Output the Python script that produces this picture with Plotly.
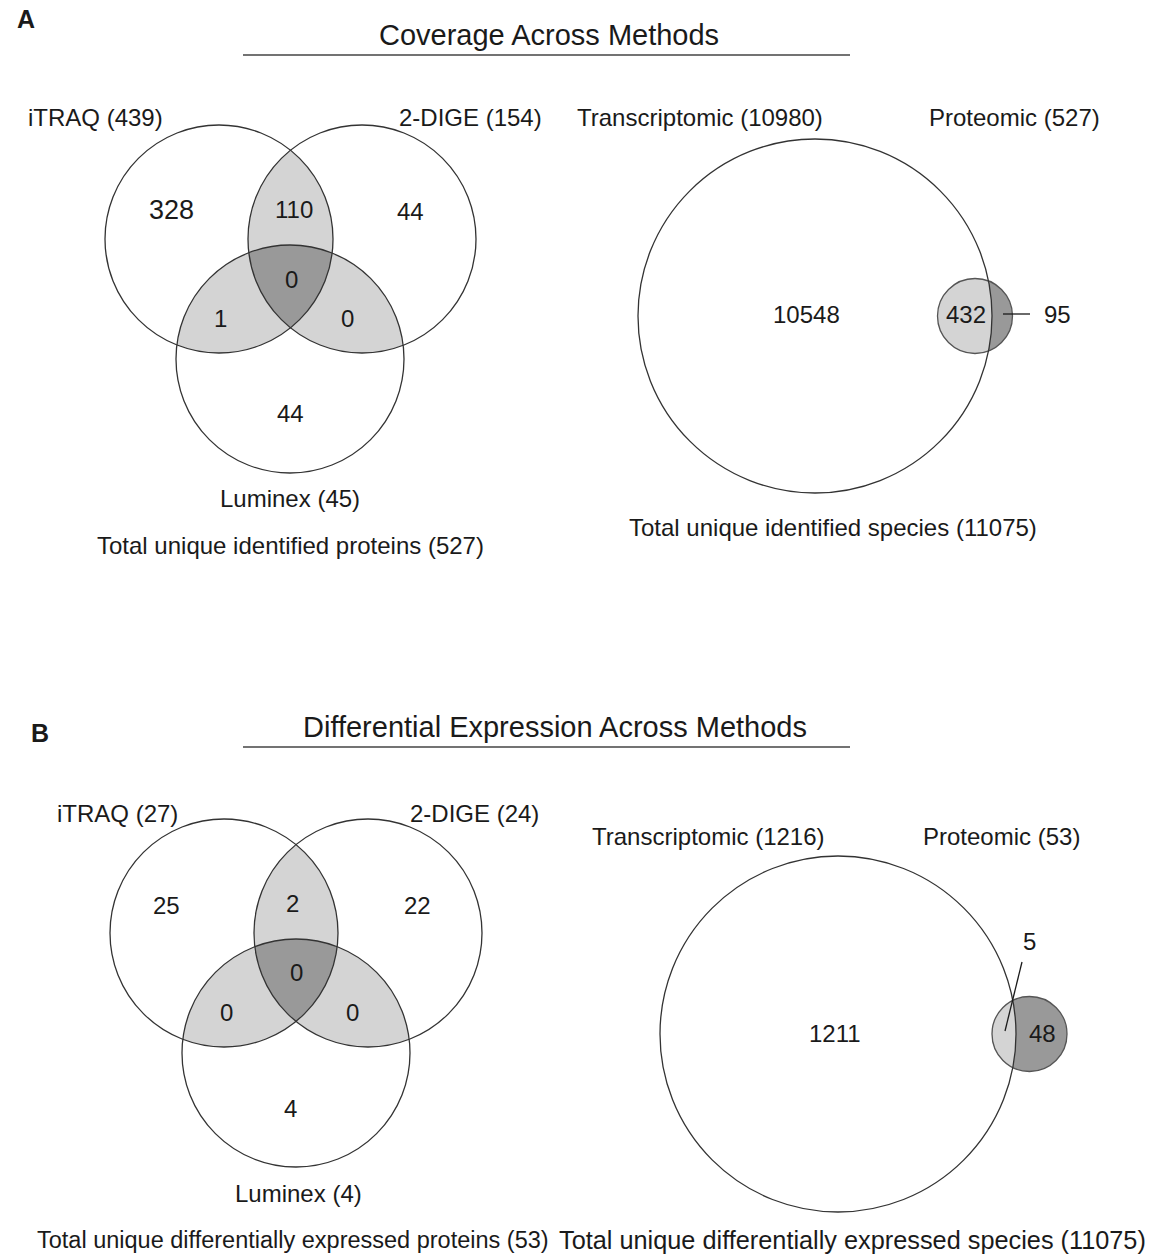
import numpy as np
import plotly.graph_objects as go

# ---- data -------------------------------------------------------------
# Panel A, three-way protein overlap
a3_names = ["iTRAQ", "2-DIGE", "Luminex"]
a3_totals = [439, 154, 45]
a3_only = [328, 44, 44]            # iTRAQ only, 2-DIGE only, Luminex only
a3_pairs = [110, 1, 0]             # iTRAQ&2-DIGE, iTRAQ&Luminex, 2-DIGE&Luminex
a3_all = 0
a3_total = 527

# Panel A, transcript vs protein
a2_names = ["Transcriptomic", "Proteomic"]
a2_totals = [10980, 527]
a2_regions = [10548, 432, 95]      # transcript only, both, protein only
a2_total = 11075

# Panel B, three-way differential expression
b3_names = ["iTRAQ", "2-DIGE", "Luminex"]
b3_totals = [27, 24, 4]
b3_only = [25, 22, 4]
b3_pairs = [2, 0, 0]
b3_all = 0
b3_total = 53

# Panel B, transcript vs protein
b2_names = ["Transcriptomic", "Proteomic"]
b2_totals = [1216, 53]
b2_regions = [1211, 5, 48]
b2_total = 11075

# ---- styling ----------------------------------------------------------
FONT = "Liberation Sans, Arial, sans-serif"
INK = "#1a1a1a"
EDGE = "#333333"
LIGHT = "#d4d4d4"
DARK = "#999999"
W, H = 1151, 1255

fig = go.Figure()
shapes = []
annotations = []


def text(x, y, s, size=24, bold=False, anchor="center"):
    annotations.append(dict(
        x=x, y=y, xref="x", yref="y", text=f"<b>{s}</b>" if bold else s,
        showarrow=False, xanchor=anchor, yanchor="middle",
        font=dict(family=FONT, size=size, color=INK)))


def circle_boundary(c, n=1440):
    t = np.linspace(0, 2 * np.pi, n, endpoint=False)
    return c[0] + c[2] * np.cos(t), c[1] + c[2] * np.sin(t)


def intersection(circles):
    xs, ys = [], []
    for i, c in enumerate(circles):
        x, y = circle_boundary(c)
        keep = np.ones_like(x, dtype=bool)
        for j, o in enumerate(circles):
            if j != i:
                keep &= np.hypot(x - o[0], y - o[1]) <= o[2] + 1e-6
        xs.append(x[keep]); ys.append(y[keep])
    x = np.concatenate(xs); y = np.concatenate(ys)
    cx, cy = x.mean(), y.mean()
    order = np.argsort(np.arctan2(y - cy, x - cx))
    x, y = x[order], y[order]
    return np.append(x, x[0]), np.append(y, y[0])


def fill(x, y, color):
    fig.add_trace(go.Scatter(x=x, y=y, mode="lines", fill="toself",
                             fillcolor=color, line=dict(width=0),
                             hoverinfo="skip", showlegend=False))


def outline(c, color=EDGE, width=1.3):
    shapes.append(dict(type="circle", xref="x", yref="y",
                       x0=c[0] - c[2], x1=c[0] + c[2],
                       y0=c[1] - c[2], y1=c[1] + c[2],
                       line=dict(color=color, width=width)))


def venn3(circles, names, totals, only, pairs, allv, total, total_text,
          label_pos, only_pos, pair_pos, all_pos, total_pos, only_sizes,
          total_size=24):
    a, b, c = circles
    for p in [(a, b), (a, c), (b, c)]:
        fill(*intersection(list(p)), LIGHT)
    fill(*intersection([a, b, c]), DARK)
    for cc in circles:
        outline(cc)
    for (x, y), n, t in zip(label_pos, names, totals):
        text(x, y, f"{n} ({t})")
    for (x, y), v, s in zip(only_pos, only, only_sizes):
        text(x, y, str(v), size=s)
    for (x, y), v in zip(pair_pos, pairs):
        text(x, y, str(v))
    text(*all_pos, str(allv))
    text(*total_pos, f"{total_text} ({total})", size=total_size)


def venn2(big, small, names, totals, regions, total, total_text,
          label_pos, region_pos, total_pos, leader, total_size=24):
    x, y = circle_boundary(small)
    fill(np.append(x, x[0]), np.append(y, y[0]), DARK)
    fill(*intersection([big, small]), LIGHT)
    outline(small, color="#555555", width=1.3)
    outline(big)
    for (px, py), n, t in zip(label_pos, names, totals):
        text(px, py, f"{n} ({t})")
    for (px, py), v in zip(region_pos, regions):
        text(px, py, str(v))
    text(*total_pos, f"{total_text} ({total})", size=total_size)
    shapes.append(dict(type="line", xref="x", yref="y",
                       x0=leader[0], y0=leader[1], x1=leader[2], y1=leader[3],
                       line=dict(color=INK, width=1.3)))


# ---- panel A ----------------------------------------------------------
text(15, 19, "A", size=25, bold=True, anchor="left")
text(549, 35, "Coverage Across Methods", size=29)
shapes.append(dict(type="line", xref="x", yref="y", x0=243, x1=850, y0=55, y1=55,
                   line=dict(color="#444444", width=1.5)))

venn3(circles=[(219, 239, 114), (362, 239, 114), (290, 359, 114)],
      names=a3_names, totals=a3_totals, only=a3_only, pairs=a3_pairs,
      allv=a3_all, total=a3_total, total_text="Total unique identified proteins",
      label_pos=[(95, 117), (470, 117), (290, 498)],
      only_pos=[(171, 210), (410, 211), (290, 413)],
      pair_pos=[(294, 209), (220, 318), (347, 318)],
      all_pos=(291, 279), total_pos=(290, 545), only_sizes=[27, 24, 24])

venn2(big=(815, 316, 177), small=(975, 316, 37.5),
      names=a2_names, totals=a2_totals, regions=a2_regions, total=a2_total,
      total_text="Total unique identified species",
      label_pos=[(700, 117), (1014, 117)],
      region_pos=[(806, 314), (966, 314), (1057, 314)],
      total_pos=(833, 527), leader=(1003, 314, 1030, 314))

# ---- panel B ----------------------------------------------------------
text(29, 733, "B", size=25, bold=True, anchor="left")
text(555, 727, "Differential Expression Across Methods", size=29)
shapes.append(dict(type="line", xref="x", yref="y", x0=243, x1=850, y0=747, y1=747,
                   line=dict(color="#444444", width=1.5)))

venn3(circles=[(224, 933, 114), (368, 933, 114), (296, 1053, 114)],
      names=b3_names, totals=b3_totals, only=b3_only, pairs=b3_pairs,
      allv=b3_all, total=b3_total,
      total_text="Total unique differentially expressed proteins",
      label_pos=[(117, 813), (474, 813), (298, 1193)],
      only_pos=[(166, 905), (417, 905), (290, 1108)],
      pair_pos=[(292, 903), (226, 1012), (352, 1012)],
      all_pos=(296, 972), total_pos=(293, 1240), only_sizes=[24, 24, 24],
      total_size=23.5)

venn2(big=(838, 1034, 178), small=(1029.5, 1034, 37.5),
      names=b2_names, totals=b2_totals, regions=b2_regions, total=b2_total,
      total_text="Total unique differentially expressed species",
      label_pos=[(708, 836), (1001, 836)],
      region_pos=[(835, 1033), (1029, 941), (1042, 1033)],
      total_pos=(852, 1240), leader=(1022, 962, 1005, 1031), total_size=25.3)

fig.update_layout(
    width=W, height=H, margin=dict(l=0, r=0, t=0, b=0),
    paper_bgcolor="white", plot_bgcolor="white",
    xaxis=dict(range=[0, W], visible=False, fixedrange=True),
    yaxis=dict(range=[H, 0], visible=False, fixedrange=True),
    shapes=shapes, annotations=annotations, showlegend=False,
)

fig.write_html("out.html")
